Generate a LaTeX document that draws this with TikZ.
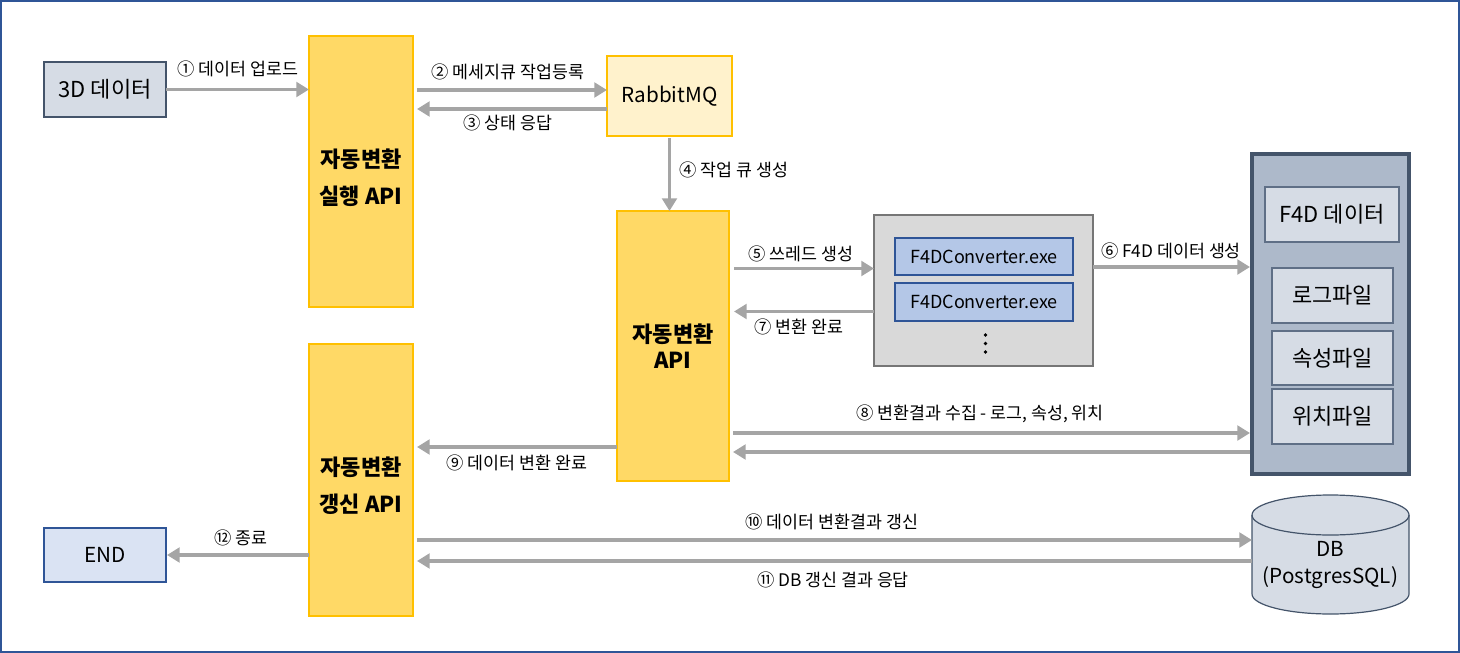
\documentclass[tikz,border=0pt]{standalone}
\usepackage{fontspec}
\setmainfont{Noto Sans CJK KR}
\usetikzlibrary{arrows.meta,calc}

\definecolor{arrowgray}{HTML}{A5A5A5}
\definecolor{apifill}{HTML}{FFD966}
\definecolor{apiline}{HTML}{FFC000}
\definecolor{mqfill}{HTML}{FFF2CC}
\definecolor{slatefill}{HTML}{D6DCE5}
\definecolor{slateline}{HTML}{44546A}
\definecolor{endfill}{HTML}{DAE3F3}
\definecolor{blueline}{HTML}{2F5597}
\definecolor{poolfill}{HTML}{D9D9D9}
\definecolor{poolline}{HTML}{767676}
\definecolor{exefill}{HTML}{B4C7E7}
\definecolor{storefill}{HTML}{ADB9CA}
\definecolor{itemline}{HTML}{5F6F86}

% box from pixel corners: name, x1, y1, x2, y2, style, text
\newcommand\pxbox[7]{%
  \node[#6, minimum width={(#4-#2)*0.75pt}, minimum height={(#5-#3)*0.75pt}]
    (#1) at ({(#2+#4)/2},{(#3+#5)/2}) {#7};}
% a text line set a little lower than its natural place
\newcommand\lowline[1]{\raisebox{-4.5pt}[\height][\depth]{#1}}

\tikzset{
  box/.style={draw, inner sep=0pt, outer sep=0pt, align=center,
    font=\fontsize{16.5}{20}\selectfont, line width=1.1pt},
  api/.style={box, fill=apifill, draw=apiline, line width=0.9pt},
  apitall/.style={api, font=\bfseries\fontsize{16.5}{28}\selectfont},
  apishort/.style={api, font=\bfseries\fontsize{16.5}{20}\selectfont},
  exe/.style={box, fill=exefill, draw=blueline, line width=0.9pt,
    font=\fontsize{13.5}{16}\selectfont},
  item/.style={box, fill=slatefill, draw=itemline, line width=0.9pt},
  arr/.style={draw=arrowgray, line width=2.6pt,
    -{Triangle[length=9.5pt,width=11pt]}},
  lbl/.style={inner sep=0pt, font=\fontsize{13}{15}\selectfont},
}

\begin{document}
\begin{tikzpicture}[x=0.75pt,y=-0.75pt]
\useasboundingbox (0,0) rectangle (1460,653);
\draw[blueline, line width=1.5pt] (1,1) rectangle (1459,652);

% components
\pxbox{d3}{44}{62}{166}{117}{box, fill=slatefill, draw=slateline}{3D 데이터}
\pxbox{exec}{309}{36}{413}{307}{apitall}{\lowline{자동변환}\\\lowline{실행 API}}
\pxbox{mq}{607}{56}{732}{136}{box, fill=mqfill, draw=apiline, line width=0.9pt, font=\fontsize{15.5}{20}\selectfont}{RabbitMQ}
\pxbox{core}{617}{211}{729}{481}{apishort}{자동변환\\API}
\pxbox{pool}{874}{215}{1093}{366}{box, fill=poolfill, draw=poolline, line width=2.2pt}{}
\pxbox{exeA}{895}{238}{1073}{275}{exe}{F4DConverter.exe}
\pxbox{exeB}{895}{283}{1073}{321}{exe}{F4DConverter.exe}
\fill (985.5,335) circle (1.4pt) (985.5,343.5) circle (1.4pt) (985.5,352) circle (1.4pt);
\pxbox{store}{1252}{154}{1409}{474}{box, fill=storefill, draw=slateline, line width=2.6pt}{}
\pxbox{f4d}{1265}{187}{1399}{242}{item}{F4D 데이터}
\pxbox{logf}{1272}{268}{1393}{323}{item}{로그파일}
\pxbox{attrf}{1272}{331}{1393}{385}{item}{속성파일}
\pxbox{locf}{1272}{389}{1393}{444}{item}{위치파일}
\pxbox{upd}{309}{344}{413}{616}{apitall}{\lowline{자동변환}\\\lowline{갱신 API}}
\pxbox{fin}{44}{528}{166}{582}{box, fill=endfill, draw=blueline, font=\fontsize{15.5}{20}\selectfont}{END}

% database cylinder
\pxbox{db}{1252}{495}{1409}{614}{inner sep=0pt, outer sep=0pt}{}
\filldraw[fill=slatefill, draw=slateline, line width=0.9pt]
  ($(db.north west)+(0,20)$) -- ($(db.south west)+(0,-20)$)
  arc[start angle=180, end angle=360, x radius=58.875pt, y radius=15pt]
  -- ($(db.north east)+(0,20)$)
  arc[start angle=0, end angle=180, x radius=58.875pt, y radius=15pt] -- cycle;
\draw[slateline, line width=0.9pt] ($(db.north west)+(0,20)$)
  arc[start angle=180, end angle=360, x radius=58.875pt, y radius=15pt];
\node[align=center, inner sep=0pt, font=\fontsize{15.5}{20}\selectfont] (dbtext)
  at (1330.5,565) {DB\\(PostgresSQL)};

% connectors
\draw[arr] (d3.east) -- (d3.east -| exec.west);
\draw[arr] ($(exec.east |- mq.west)+(4,-6)$) -- ($(mq.west)+(0,-6)$);
\draw[arr] ($(mq.west)+(0,13)$) -- ($(exec.east |- mq.west)+(4,13)$);
\draw[arr] ($(mq.south)+(0,2)$) -- (mq.south |- core.north);
\draw[arr] ($(core.east |- pool.west)+(5,-22)$) -- ($(pool.west)+(0,-22)$);
\draw[arr] ($(pool.west)+(0,21)$) -- ($(core.east |- pool.west)+(5,21)$);
\draw[arr] ($(pool.east)+(0,-23.5)$) -- ($(store.west |- pool.east)+(-2,-23.5)$);
\draw[arr] ($(core.east |- store.west)+(4,119)$) -- ($(store.west)+(-2,119)$);
\draw[arr] ($(store.west)+(-2,138)$) -- ($(core.east |- store.west)+(4,138)$);
\draw[arr] ($(core.west)+(0,101)$) -- ($(upd.east |- core.west)+(4,101)$);
\draw[arr] ($(upd.east |- db.west)+(4,-14.5)$) -- ($(db.west)+(0,-14.5)$);
\draw[arr] ($(db.west)+(0,6.5)$) -- ($(upd.east |- db.west)+(4,6.5)$);
\draw[arr] (upd.west |- fin.east) -- ($(fin.east)+(1,0)$);

% connector labels
\node[lbl] (l1) at (238,69) {① 데이터 업로드};
\node[lbl] (l2) at (508,72) {② 메세지큐 작업등록};
\node[lbl] (l3) at (508,123) {③ 상태 응답};
\node[lbl] (l4) at (734,170) {④ 작업 큐 생성};
\node[lbl] (l5) at (801,254) {⑤ 쓰레드 생성};
\node[lbl] (l6) at (1171,251) {⑥ F4D 데이터 생성};
\node[lbl] (l7) at (799,327) {⑦ 변환 완료};
\node[lbl] (l8) at (980,414) {⑧ 변환결과 수집 - 로그, 속성, 위치};
\node[lbl] (l9) at (517,463) {⑨ 데이터 변환 완료};
\node[lbl] (l10) at (832,522) {⑩ 데이터 변환결과 갱신};
\node[lbl] (l11) at (833,580) {⑪ DB 갱신 결과 응답};
\node[lbl] (l12) at (241,538) {⑫ 종료};
\end{tikzpicture}
\end{document}
